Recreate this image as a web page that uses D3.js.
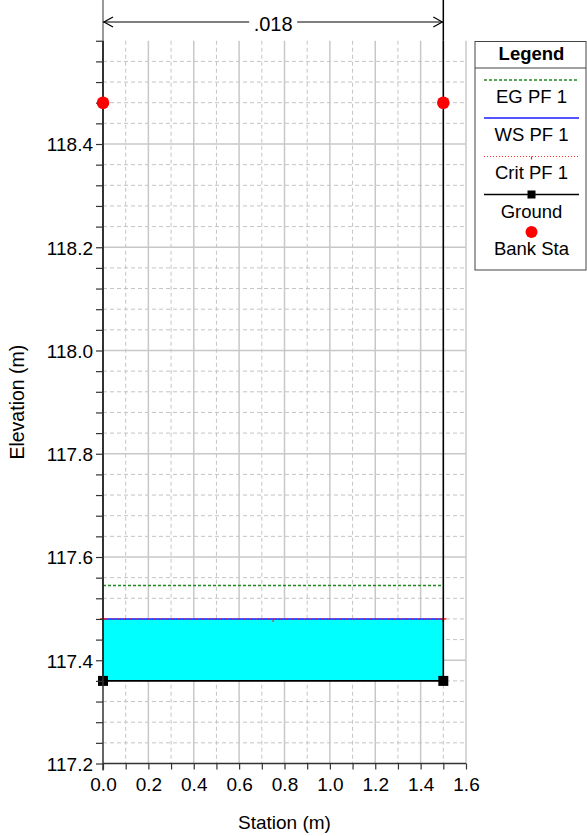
<!DOCTYPE html>
<html>
<head>
<meta charset="utf-8">
<script src="https://cdn.jsdelivr.net/npm/d3@7/dist/d3.min.js"></script>
<style>
  html, body { margin: 0; padding: 0; background: #fff; }
  svg { display: block; font-family: "Liberation Sans", Arial, sans-serif; }
</style>
</head>
<body>
<svg id="chart" width="587" height="836"></svg>
<script>
// ---- data ----
const groundStation = [0, 0, 1.5, 1.5];
const groundElev = [118.8, 117.36, 117.36, 118.8];
const bankStation = [0, 1.5];
const bankElev = [118.48, 118.48];
const wsStation = [0, 1.5];
const wsElev = [117.48, 117.48];
const egStation = [0, 1.5];
const egElev = [117.545, 117.545];
const critStation = [0, 0.75, 1.5];
const critElev = [117.48, 117.48, 117.48];
const xTickValues = [0, 0.2, 0.4, 0.6, 0.8, 1.0, 1.2, 1.4, 1.6];
const xTickLabels = ["0.0", "0.2", "0.4", "0.6", "0.8", "1.0", "1.2", "1.4", "1.6"];
const yTickValues = [117.2, 117.4, 117.6, 117.8, 118.0, 118.2, 118.4];
const yTickLabels = ["117.2", "117.4", "117.6", "117.8", "118.0", "118.2", "118.4"];
const roughnessLabel = ".018";
const legendItems = ["EG PF 1", "WS PF 1", "Crit PF 1", "Ground", "Bank Sta"];

// ---- layout ----
const svg = d3.select("#chart");
const x = d3.scaleLinear().domain([0, 1.6]).range([103, 466]);
const y = d3.scaleLinear().domain([117.2, 118.6]).range([763.5, 40.75]);
const x0 = x(0), x1 = x(1.6), yb = y(117.2), yt = y(118.6);
const FS = 19;

const xMinor = d3.range(0.1, 1.6, 0.2);
const yAll = d3.range(0, 36).map(i => +(117.2 + i * 0.04).toFixed(2));
const yMinor = yAll.filter(v => Math.abs(Math.round(v * 5) - v * 5) > 1e-6);

// grid
const grid = svg.append("g");
grid.selectAll("line.vmin").data(xMinor).join("line")
  .attr("x1", d => x(d)).attr("x2", d => x(d)).attr("y1", yt).attr("y2", yb)
  .attr("stroke", "#c4c4c4").attr("stroke-width", 1).attr("stroke-dasharray", "4,3");
grid.selectAll("line.hmin").data(yMinor).join("line")
  .attr("x1", x0).attr("x2", x1).attr("y1", d => y(d)).attr("y2", d => y(d))
  .attr("stroke", "#c4c4c4").attr("stroke-width", 1).attr("stroke-dasharray", "4,3");
grid.selectAll("line.vmaj").data(xTickValues.slice(1)).join("line")
  .attr("x1", d => x(d)).attr("x2", d => x(d)).attr("y1", yt).attr("y2", yb)
  .attr("stroke", "#c8c8c8").attr("stroke-width", 1.5);
grid.selectAll("line.hmaj").data(yTickValues.slice(1)).join("line")
  .attr("x1", x0).attr("x2", x1).attr("y1", d => y(d)).attr("y2", d => y(d))
  .attr("stroke", "#c8c8c8").attr("stroke-width", 1.5);

// plot clip
svg.append("clipPath").attr("id", "clip").append("rect")
  .attr("x", x0 - 10).attr("y", yt).attr("width", x1 - x0 + 20).attr("height", yb - yt + 10);
const plot = svg.append("g").attr("clip-path", "url(#clip)");

// water fill
const wsArea = d3.area().x(d => x(d[0])).y0(y(groundElev[1])).y1(d => y(d[1]));
plot.append("path").datum(wsStation.map((s, i) => [s, wsElev[i]]))
  .attr("d", wsArea).attr("fill", "#00ffff");

const line = d3.line().x(d => x(d[0])).y(d => y(d[1]));

// EG
plot.append("path").datum(egStation.map((s, i) => [s, egElev[i]]))
  .attr("d", line).attr("fill", "none").attr("stroke", "#1f8a1f")
  .attr("stroke-width", 1.5).attr("stroke-dasharray", "3,2");
// WS
plot.append("path").datum(wsStation.map((s, i) => [s, wsElev[i]]))
  .attr("d", line).attr("fill", "none").attr("stroke", "#1a1aff").attr("stroke-width", 1.4);
// Crit
const critPts = critStation.map((s, i) => [s, critElev[i]]);
plot.append("path").datum(critPts)
  .attr("d", line).attr("fill", "none").attr("stroke", "#ff3030")
  .attr("stroke-width", 1).attr("stroke-dasharray", "1,2");
plot.selectAll("line.crit").data(critPts).join("line")
  .attr("x1", d => x(d[0])).attr("x2", d => x(d[0]))
  .attr("y1", d => y(d[1])).attr("y2", d => y(d[1]) + 3)
  .attr("stroke", "#ff2020").attr("stroke-width", 1.2);
plot.selectAll("line.critH").data([critPts[0], critPts[2]]).join("line")
  .attr("x1", d => x(d[0]) - 3).attr("x2", d => x(d[0]) + 3)
  .attr("y1", d => y(d[1])).attr("y2", d => y(d[1]))
  .attr("stroke", "#ff2020").attr("stroke-width", 1.5);

// axes
const yAxis = d3.axisLeft(y).tickValues(yAll).tickSize(7)
  .tickFormat(d => { const i = yTickValues.findIndex(v => Math.abs(v - d) < 1e-6); return i >= 0 ? yTickLabels[i] : ""; });
const gy = svg.append("g").attr("transform", `translate(${x0},0)`).call(yAxis);
gy.select(".domain").remove();
gy.selectAll(".tick line").attr("stroke", "#333").attr("stroke-width", 1.2);
gy.selectAll(".tick text").attr("font-size", FS).attr("fill", "#000")
  .attr("font-family", "Liberation Sans, Arial, sans-serif").attr("x", -10).attr("dy", "0.36em");
svg.append("line").attr("x1", x0).attr("x2", x0).attr("y1", yt).attr("y2", yb + 7)
  .attr("stroke", "#333").attr("stroke-width", 1.5);

const xAll = d3.range(0, 17).map(i => +(i * 0.1).toFixed(1));
const xAxis = d3.axisBottom(x).tickValues(xAll).tickSize(6)
  .tickFormat(d => { const i = xTickValues.findIndex(v => Math.abs(v - d) < 1e-6); return i >= 0 ? xTickLabels[i] : ""; });
const gx = svg.append("g").attr("transform", `translate(0,${yb})`).call(xAxis);
gx.select(".domain").remove();
gx.selectAll(".tick line").attr("stroke", "#333").attr("stroke-width", 1.2);
gx.selectAll(".tick text").attr("font-size", FS).attr("fill", "#000")
  .attr("font-family", "Liberation Sans, Arial, sans-serif").attr("y", 14).attr("dy", "0.71em");
svg.append("line").attr("x1", x0).attr("x2", x1).attr("y1", yb).attr("y2", yb)
  .attr("stroke", "#333").attr("stroke-width", 1.5);

// ground
const gPts = groundStation.map((s, i) => [s, groundElev[i]]);
plot.append("path").datum(gPts).attr("d", line).attr("fill", "none")
  .attr("stroke", "#000").attr("stroke-width", 1.6);
plot.selectAll("rect.gm").data(gPts).join("rect")
  .attr("x", d => x(d[0]) - 5).attr("y", d => y(d[1]) - 5)
  .attr("width", 10).attr("height", 10).attr("fill", "#000");

// bank stations
svg.selectAll("circle.bank").data(bankStation.map((s, i) => [s, bankElev[i]])).join("circle")
  .attr("cx", d => x(d[0])).attr("cy", d => y(d[1])).attr("r", 6.3).attr("fill", "#ff0000");

// dimension (roughness)
const dimY = 22;
const xl = x(bankStation[0]), xr = x(bankStation[1]);
svg.append("line").attr("x1", xl).attr("x2", xl).attr("y1", 0).attr("y2", yt)
  .attr("stroke", "#777").attr("stroke-width", 1.5);
svg.append("line").attr("x1", xr).attr("x2", xr).attr("y1", 0).attr("y2", yt)
  .attr("stroke", "#000").attr("stroke-width", 1.5);
const midX = (xl + xr) / 2;
svg.append("line").attr("x1", xl).attr("x2", midX - 24).attr("y1", dimY).attr("y2", dimY).attr("stroke", "#000").attr("stroke-width", 1.2);
svg.append("line").attr("x1", midX + 24).attr("x2", xr).attr("y1", dimY).attr("y2", dimY).attr("stroke", "#000").attr("stroke-width", 1.2);
svg.append("path").attr("d", `M${xl + 10},${dimY - 5}L${xl + 1},${dimY}L${xl + 10},${dimY + 5}`)
  .attr("fill", "none").attr("stroke", "#000").attr("stroke-width", 1.2);
svg.append("path").attr("d", `M${xr - 10},${dimY - 5}L${xr - 1},${dimY}L${xr - 10},${dimY + 5}`)
  .attr("fill", "none").attr("stroke", "#000").attr("stroke-width", 1.2);
svg.append("text").attr("x", midX).attr("y", 31).attr("text-anchor", "middle")
  .attr("font-size", 20).attr("fill", "#000").text(roughnessLabel);

// axis titles
svg.append("text").attr("x", (x0 + x1) / 2).attr("y", 829).attr("text-anchor", "middle")
  .attr("font-size", FS).attr("fill", "#000").text("Station (m)");
svg.append("text").attr("transform", `translate(24,${(yt + yb) / 2}) rotate(-90)`)
  .attr("text-anchor", "middle").attr("font-size", 19.5).attr("fill", "#000").text("Elevation (m)");

// legend
const lg = svg.append("g");
const lx = 475, ly = 41.5, lw = 111, lh = 228.5, lcx = lx + lw / 2 + 1;
lg.append("rect").attr("x", lx).attr("y", ly).attr("width", lw).attr("height", lh)
  .attr("fill", "#fff").attr("stroke", "#444").attr("stroke-width", 1);
lg.append("line").attr("x1", lx).attr("x2", lx + lw).attr("y1", 68).attr("y2", 68)
  .attr("stroke", "#444").attr("stroke-width", 1);
lg.append("text").attr("x", lcx).attr("y", 60).attr("text-anchor", "middle")
  .attr("font-size", 18.5).attr("font-weight", "bold").text("Legend");
const sx1 = 484, sx2 = 579;
lg.append("line").attr("x1", sx1).attr("x2", sx2).attr("y1", 80).attr("y2", 80)
  .attr("stroke", "#1f8a1f").attr("stroke-width", 1.4).attr("stroke-dasharray", "3,2");
lg.append("line").attr("x1", sx1).attr("x2", sx2).attr("y1", 118).attr("y2", 118)
  .attr("stroke", "#1a1aff").attr("stroke-width", 1.4);
lg.append("line").attr("x1", sx1).attr("x2", sx2).attr("y1", 156.5).attr("y2", 156.5)
  .attr("stroke", "#ff3030").attr("stroke-width", 1).attr("stroke-dasharray", "1,2");
lg.append("line").attr("x1", lcx).attr("x2", lcx).attr("y1", 156.5).attr("y2", 159.5)
  .attr("stroke", "#ff2020").attr("stroke-width", 1.2);
lg.append("line").attr("x1", sx1).attr("x2", sx2).attr("y1", 194.5).attr("y2", 194.5)
  .attr("stroke", "#000").attr("stroke-width", 1.3);
lg.append("rect").attr("x", lcx - 4).attr("y", 190.5).attr("width", 8).attr("height", 8).attr("fill", "#000");
lg.append("circle").attr("cx", lcx).attr("cy", 232).attr("r", 6).attr("fill", "#ff0000");
const textY = [103, 140.5, 179, 217.5, 254.5];
lg.selectAll("text.item").data(legendItems).join("text")
  .attr("x", lcx).attr("y", (d, i) => textY[i]).attr("text-anchor", "middle")
  .attr("font-size", 18.5).attr("fill", "#000").text(d => d);
</script>
</body>
</html>
